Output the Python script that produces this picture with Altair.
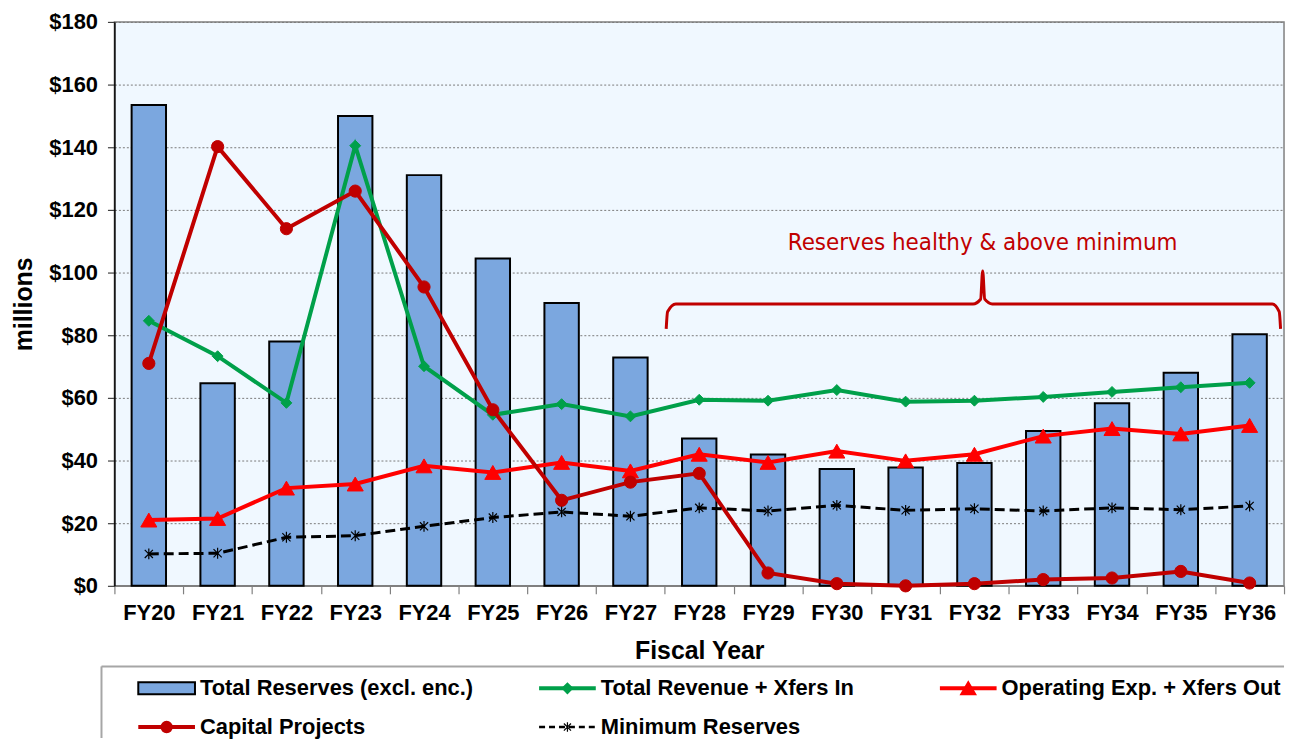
import altair as alt
import pandas as pd

# ---------------- data ----------------
years = ["FY20", "FY21", "FY22", "FY23", "FY24", "FY25", "FY26", "FY27", "FY28",
         "FY29", "FY30", "FY31", "FY32", "FY33", "FY34", "FY35", "FY36"]
reserves = [153.5, 64.7, 78.0, 150.0, 131.1, 104.5, 90.3, 72.9, 47.0,
            41.9, 37.3, 37.8, 39.2, 49.4, 58.3, 68.0, 80.3]
revenue = [84.6, 73.3, 58.4, 140.5, 70.1, 54.6, 58.0, 54.1, 59.4,
           59.1, 62.5, 58.8, 59.1, 60.3, 61.9, 63.4, 64.8]
operating = [21.0, 21.5, 31.2, 32.5, 38.3, 36.2, 39.4, 36.7, 42.0,
             39.4, 43.0, 39.9, 42.0, 47.8, 50.2, 48.5, 51.2]
capital = [71.0, 140.2, 114.0, 126.0, 95.4, 56.2, 27.3, 33.1, 35.9,
           4.1, 0.7, 0.0, 0.7, 2.0, 2.5, 4.6, 0.9]
minimum = [10.2, 10.4, 15.5, 16.0, 19.0, 21.8, 23.6, 22.2, 24.9,
           23.9, 25.7, 24.1, 24.6, 23.9, 24.9, 24.3, 25.5]

series_names = ["Total Reserves (excl. enc.)", "Total Revenue + Xfers In",
                "Operating Exp. + Xfers Out", "Capital Projects", "Minimum Reserves"]

# annotation (curly brace + note), in category-index / value units
brace_x = [7.52, 7.54, 7.66, 11.98, 12.09, 12.12, 12.15, 12.26, 16.33, 16.43, 16.45]
brace_y = [82.0, 87.5, 90.0, 90.0, 91.5, 100.5, 91.5, 90.0, 90.0, 87.5, 82.0]
note_x = [12.12]
note_y = [109.5]
note_text = ["Reserves healthy & above minimum"]

# ---------------- styling ----------------
W, H = 1176, 567
LEG_H = 72
FONT = "Liberation Sans"
BAR_FILL = "#7BA7DF"
GREEN = "#00A04A"
RED = "#FF0000"
DARKRED = "#C00000"
STAR = "M-0.75,-0.75L0.75,0.75M-0.75,0.75L0.75,-0.75M0,-1L0,1"

df = pd.DataFrame({"year": years, "reserves": reserves, "revenue": revenue,
                   "operating": operating, "capital": capital, "minimum": minimum})

yscale = alt.Scale(domain=[0, 180], nice=False, zero=True)

x_main = alt.X(
    "year:N", sort=years, title="Fiscal Year",
    scale=alt.Scale(paddingInner=0, paddingOuter=0),
    axis=alt.Axis(labelAngle=0, tickBand="extent", labelFont=FONT, labelFontSize=22,
                  labelFontWeight="bold", labelColor="black", labelPadding=9,
                  tickSize=8, tickColor="#808080", tickWidth=1.2,
                  domainColor="#808080", domainWidth=1.5, grid=False,
                  titleFont=FONT, titleFontSize=25, titleFontWeight="bold",
                  titleColor="black", titlePadding=15))
x_plain = alt.X("year:N", sort=years)

y_main = alt.Y(
    "reserves:Q", scale=yscale,
    axis=alt.Axis(values=list(range(0, 181, 20)), labelExpr="'$' + datum.value",
                  labelFont=FONT, labelFontSize=22, labelFontWeight="bold",
                  labelColor="black", labelPadding=10, tickSize=7,
                  tickColor="#404040", tickWidth=1.2, domainColor="black",
                  domainWidth=1.5, grid=True, gridColor="#7a7a7a",
                  gridDash=[2, 2], gridWidth=1, title="millions",
                  titleFont=FONT, titleFontSize=25, titleFontWeight="bold",
                  titleColor="black", titlePadding=12))

bars = alt.Chart(df).mark_bar(
    width=alt.RelativeBandSize(0.5), fill=BAR_FILL, stroke="black", strokeWidth=2
).encode(x=x_main, y=y_main)


def series(field, color, width, shape, size, dash=None, filled=True, pstroke=1):
    base = alt.Chart(df).encode(x=x_plain, y=alt.Y(f"{field}:Q", scale=yscale))
    kw = dict(color=color, strokeWidth=width)
    if dash is not None:
        kw["strokeDash"] = dash
    line = base.mark_line(**kw)
    if filled:
        pts = base.mark_point(shape=shape, size=size, filled=True, fill=color,
                              stroke=color, strokeWidth=pstroke, opacity=1)
    else:
        pts = base.mark_point(shape=shape, size=size, filled=False, stroke=color,
                              strokeWidth=pstroke, opacity=1)
    return [line, pts]


layers = [bars]
layers += series("revenue", GREEN, 4, "diamond", 120)
layers += series("operating", RED, 4, "triangle-up", 260)
layers += series("capital", DARKRED, 4, "circle", 150)
layers += series("minimum", "black", 3, STAR, 120, dash=[10, 5], filled=False, pstroke=1.2)

data_layer = alt.layer(*layers)

xq = alt.Scale(domain=[-0.5, 16.5], nice=False, zero=False)
brace_df = pd.DataFrame({"bx": brace_x, "by": brace_y, "ord": list(range(len(brace_x)))})
note_df = pd.DataFrame({"nx": note_x, "ny": note_y, "nt": note_text})
brace = alt.Chart(brace_df).mark_line(color=DARKRED, strokeWidth=3, interpolate="monotone").encode(
    x=alt.X("bx:Q", scale=xq, axis=None), y=alt.Y("by:Q", scale=yscale), order="ord:Q")
note = alt.Chart(note_df).mark_text(
    font="Liberation Sans Narrow, DejaVu Sans Condensed, sans-serif", fontSize=24,
    color=DARKRED, baseline="middle", align="center").encode(
    x=alt.X("nx:Q", scale=xq, axis=None), y=alt.Y("ny:Q", scale=yscale), text="nt:N")
annot = alt.layer(brace, note)

main = alt.layer(data_layer, annot).resolve_scale(x="independent").properties(
    width=W, height=H,
    view=alt.ViewBackground(fill="#F0F8FF", stroke="#808080", strokeWidth=1.5))

# ---------------- custom legend panel ----------------
col_x = [24, 427, 830]
row_y = [22, 61]
SYM = 57
GAP = 62
pos = [(0, 0), (1, 0), (2, 0), (0, 1), (1, 1)]
leg = pd.DataFrame({
    "name": series_names,
    "x0": [col_x[c] for c, r in pos],
    "x1": [col_x[c] + SYM for c, r in pos],
    "xm": [col_x[c] + SYM / 2 for c, r in pos],
    "tx": [col_x[c] + GAP for c, r in pos],
    "y": [row_y[r] for c, r in pos],
    "ya": [row_y[r] - 6 for c, r in pos],
    "yb": [row_y[r] + 6 for c, r in pos],
})
lx = alt.Scale(domain=[0, W], nice=False, zero=False)
ly = alt.Scale(domain=[0, LEG_H], nice=False, zero=False, reverse=True)


def lchart(name):
    return alt.Chart(leg).transform_filter(alt.datum.name == name)


leg_layers = [
    lchart(series_names[0]).mark_rect(fill=BAR_FILL, stroke="black", strokeWidth=2).encode(
        x=alt.X("x0:Q", scale=lx, axis=None), x2="x1:Q",
        y=alt.Y("ya:Q", scale=ly, axis=None), y2="yb:Q"),
]
line_styles = [
    (series_names[1], GREEN, 4, "diamond", 90, None, True),
    (series_names[2], RED, 4, "triangle-up", 200, None, True),
    (series_names[3], DARKRED, 4, "circle", 110, None, True),
    (series_names[4], "black", 2.5, STAR, 90, [6, 4], False),
]
for name, color, w, shape, size, dash, filled in line_styles:
    kw = dict(color=color, strokeWidth=w)
    if dash is not None:
        kw["strokeDash"] = dash
    leg_layers.append(lchart(name).mark_rule(**kw).encode(
        x=alt.X("x0:Q", scale=lx, axis=None), x2="x1:Q",
        y=alt.Y("y:Q", scale=ly, axis=None)))
    if filled:
        leg_layers.append(lchart(name).mark_point(shape=shape, size=size, filled=True,
                                                  fill=color, stroke=color, opacity=1).encode(
            x=alt.X("xm:Q", scale=lx, axis=None), y=alt.Y("y:Q", scale=ly, axis=None)))
    else:
        leg_layers.append(lchart(name).mark_point(shape=shape, size=size, filled=False,
                                                  stroke=color, strokeWidth=1.2, opacity=1).encode(
            x=alt.X("xm:Q", scale=lx, axis=None), y=alt.Y("y:Q", scale=ly, axis=None)))

leg_layers.append(alt.Chart(leg).mark_text(
    align="left", baseline="middle", font=FONT, fontSize=22, fontWeight="bold",
    color="black").encode(x=alt.X("tx:Q", scale=lx, axis=None),
                          y=alt.Y("y:Q", scale=ly, axis=None), text="name:N"))

box = pd.DataFrame({"bx0": [-13], "bx1": [W], "by0": [0], "by1": [LEG_H]})
leg_layers.append(alt.Chart(box).mark_rule(color="#A6A6A6", strokeWidth=2).encode(
    x=alt.X("bx0:Q", scale=lx, axis=None), x2="bx1:Q", y=alt.Y("by0:Q", scale=ly, axis=None)))
leg_layers.append(alt.Chart(box).mark_rule(color="#A6A6A6", strokeWidth=2).encode(
    x=alt.X("bx0:Q", scale=lx, axis=None), y=alt.Y("by0:Q", scale=ly, axis=None), y2="by1:Q"))

legend = alt.layer(*leg_layers).properties(
    width=W, height=LEG_H,
    view=alt.ViewBackground(fill="white", stroke="transparent"))

chart = alt.vconcat(main, legend, spacing=0).properties(
    padding={"left": 3, "top": 0, "right": 0, "bottom": 0},
    background="white")

chart.save("out.html", embed_options={"renderer": "svg", "actions": False})
